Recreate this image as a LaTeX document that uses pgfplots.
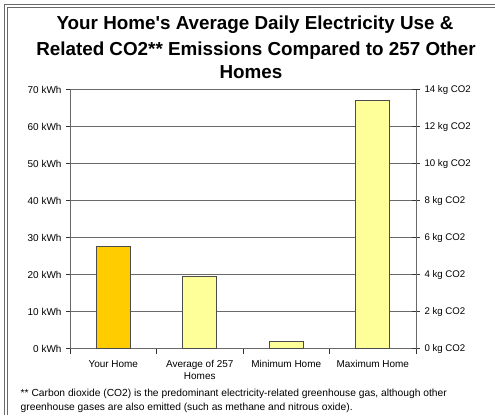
\documentclass[border=0pt]{standalone}
\usepackage{fontspec}
\setmainfont{Liberation Sans}[Ligatures=TeXOff]
\usepackage{pgfplots}
\pgfplotsset{compat=1.18}
\definecolor{gold}{RGB}{255,204,0}
\definecolor{paleyellow}{RGB}{255,255,153}
\definecolor{gridc}{RGB}{105,105,105}
\begin{document}
\begin{tikzpicture}[x=1bp,y=1bp]
\useasboundingbox (0,0) rectangle (495,415);
\draw[gridc, line width=0.9bp] (4,0) -- (4,411) -- (495,411);
\draw[gridc, line width=0.9bp] (7.5,0) -- (7.5,407.5) -- (495,407.5);
\node[anchor=base, inner sep=0pt, font=\fontsize{18.9}{22}\selectfont\bfseries] at (255,386) {Your Home's Average Daily Electricity Use \&};
\node[anchor=base, inner sep=0pt, font=\fontsize{18.9}{22}\selectfont\bfseries] at (256,360) {Related CO2** Emissions Compared to 257 Other};
\node[anchor=base, inner sep=0pt, font=\fontsize{18.9}{22}\selectfont\bfseries] at (251,337) {Homes};
\node[anchor=base west, inner sep=0pt, font=\fontsize{10.3}{12}\selectfont] at (20.5,18.5) {** Carbon dioxide (CO2) is the predominant electricity-related greenhouse gas, although other};
\node[anchor=base west, inner sep=0pt, font=\fontsize{10.3}{12}\selectfont] at (20.5,4.5) {greenhouse gases are also emitted (such as methane and nitrous oxide).};
\begin{axis}[
  at={(70bp,66.3bp)}, anchor=south west,
  width=346bp, height=259bp, scale only axis,
  xmin=-0.5, xmax=3.5, ymin=0, ymax=70,
  axis y line*=left, axis x line*=bottom,
  axis line style={gridc, line width=0.9bp},
  /pgf/number format/assume math mode=true,
  ytick={0,10,...,70},
  yticklabel={\pgfmathprintnumber{\tick} kWh},
  yticklabel style={font=\fontsize{10}{11}\selectfont, xshift=-1bp},
  ymajorgrids, grid style={gridc, line width=0.9bp},
  tick align=outside, major tick length=4bp, minor tick length=5bp,
  tick style={black!80, line width=0.8bp},
  xtick={0,1,2,3},
  xticklabels={Your Home, {Average of 257\\Homes}, Minimum Home, Maximum Home},
  xticklabel style={align=center, font=\fontsize{10}{12}\selectfont, yshift=-4bp},
  major x tick style={draw=none},
  minor xtick={-0.5,0.5,1.5,2.5,3.5},
]
\addplot[ybar, bar width=34bp, bar shift=0pt, fill=gold, draw=black!70, line width=0.8bp] coordinates {(0,27.7)};
\addplot[ybar, bar width=34bp, bar shift=0pt, fill=paleyellow, draw=black!70, line width=0.8bp] coordinates {(1,19.6) (2,2.0) (3,67.2)};
\end{axis}
\begin{axis}[
  at={(70bp,66.3bp)}, anchor=south west,
  width=346bp, height=259bp, scale only axis,
  xmin=-0.5, xmax=3.5, ymin=0, ymax=14,
  axis y line*=right, axis x line=none,
  axis line style={gridc, line width=0.9bp},
  /pgf/number format/assume math mode=true,
  ytick={0,2,...,14},
  yticklabel={\pgfmathprintnumber{\tick} kg CO2},
  yticklabel style={font=\fontsize{9.7}{11}\selectfont, xshift=1bp},
  tick align=center, major tick length=8bp,
  tick style={black!80, line width=0.8bp},
]
\end{axis}
\end{tikzpicture}
\end{document}
